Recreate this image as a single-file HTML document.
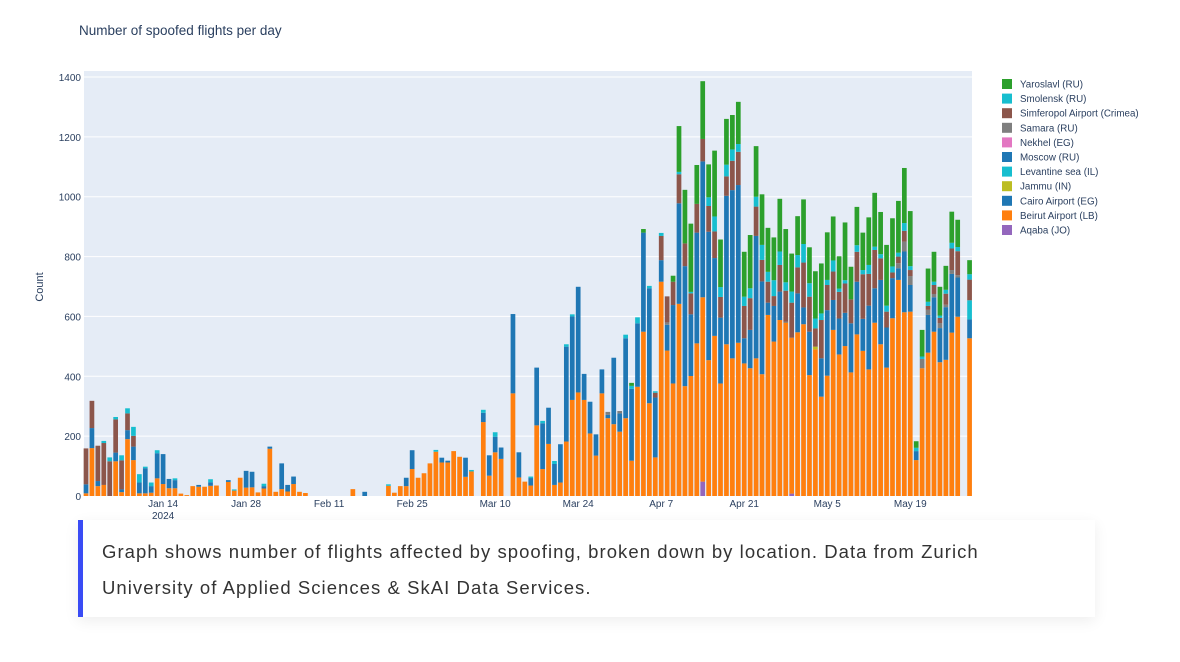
<!DOCTYPE html>
<html><head><meta charset="utf-8">
<style>
html,body{margin:0;padding:0;background:#fff;}
body{width:1180px;height:662px;position:relative;overflow:hidden;font-family:"Liberation Sans",sans-serif;}
#chart{position:absolute;left:0;top:0;}
.caption{position:absolute;left:78px;top:520px;width:1017px;height:97px;background:#fff;border-left:5px solid #3a4cf5;box-shadow:0 4px 14px rgba(0,0,0,0.07);box-sizing:border-box;padding:14px 0 0 19px;font-size:18.5px;letter-spacing:1.05px;line-height:36px;color:#333;}
</style></head><body>
<svg id="chart" width="1180" height="520" xmlns="http://www.w3.org/2000/svg">
<text x="79" y="35" font-size="13.5" fill="#2a3f5f" font-family="Liberation Sans, sans-serif">Number of spoofed flights per day</text>
<rect x="84" y="71" width="888" height="425" fill="#e5ecf6"/>
<g id="grid"></g>
<g id="bars"></g>
<g id="axes"></g>
<text transform="translate(43,287) rotate(-90)" text-anchor="middle" font-size="11" fill="#2a3f5f">Count</text>
<g id="legend"></g>
</svg>
<div class="caption">Graph shows number of flights affected by spoofing, broken down by location. Data from Zurich<br>University of Applied Sciences &amp; SkAI Data Services.</div>
<script>
const beirut=[9,160,33,37,0,116,13,190,120,9, 9,11,59,40,26,26,8,3,33,31, 31,34,35,0,47,18,61,28,29,12, 25,158,14,23,15,40,14,10,0,0, 0,0,0,0,0,23,0,0,0,0, 0,34,11,33,33,90,61,76,109,148, 112,112,150,131,64,82,0,247,68,146, 124,0,343,62,48,35,236,90,174,37, 45,182,321,346,321,209,135,343,260,240, 215,260,118,365,549,310,129,716,486,376, 642,367,401,510,616,454,535,376,507,460, 512,443,427,460,407,605,516,588,580,521, 547,574,404,490,332,402,555,473,501,413, 540,485,423,579,507,429,594,722,614,616, 120,427,479,549,447,455,546,599,0,527];
const cairo=[30,67,17,0,0,29,9,30,45,36, 84,22,84,100,31,27,0,0,0,6, 0,12,0,0,6,0,0,56,52,0, 8,7,0,86,22,25,0,0,0,0, 0,0,0,0,0,0,0,14,0,0, 0,0,0,0,28,63,0,0,0,0, 16,6,0,0,64,0,0,31,68,52, 38,0,265,84,0,25,193,153,121,70, 128,317,279,353,87,106,71,80,11,222, 61,267,240,212,331,384,200,72,86,262, 336,401,206,370,454,429,260,220,496,562, 527,84,128,409,310,41,119,95,2,0, 130,56,145,0,128,219,100,120,111,164, 176,107,213,115,215,134,134,39,203,89, 30,0,126,115,114,176,196,131,0,63];
const smolensk=[0,0,0,7,13,8,17,17,30,28, 5,12,10,0,0,6,0,0,0,0, 0,10,0,0,0,4,0,0,0,0, 8,0,0,0,0,0,0,0,0,0, 0,0,0,0,0,0,0,0,0,0, 0,5,0,0,0,0,0,0,0,6, 0,0,0,0,0,5,0,10,0,15, 0,0,0,0,0,5,0,8,0,10, 0,8,7,0,0,0,0,0,0,0, 0,12,10,20,0,8,5,10,0,0, 8,0,5,0,0,29,50,33,39,38, 26,31,33,33,50,33,53,45,28,37, 41,62,45,33,22,17,37,11,11,0, 22,14,30,11,14,20,20,13,26,13, 11,8,14,11,8,13,19,14,0,18];
const simferopol=[120,91,118,140,116,111,97,56,36,0, 0,0,0,0,0,0,0,0,0,0, 0,0,0,0,0,0,0,0,0,0, 0,0,0,0,0,0,0,0,0,0, 0,0,0,0,0,0,0,0,0,0, 0,0,0,0,0,0,0,0,0,0, 0,0,0,0,0,0,0,0,0,0, 0,0,0,0,0,0,0,0,0,0, 0,0,0,0,0,0,0,0,0,0, 0,0,0,0,0,0,16,81,87,78, 97,76,70,96,75,86,89,69,65,98, 111,108,106,98,72,70,33,89,104,117, 87,150,117,61,128,84,95,89,98,80, 100,149,106,128,72,53,19,22,36,20, 0,0,13,30,17,37,72,80,0,69];
const yaroslavl=[0,0,0,0,0,0,0,0,0,0, 0,0,0,0,0,0,0,0,0,0, 0,0,0,0,0,0,0,0,0,0, 0,0,0,0,0,0,0,0,0,0, 0,0,0,0,0,0,0,0,0,0, 0,0,0,0,0,0,0,0,0,0, 0,0,0,0,0,0,0,0,0,0, 0,0,0,0,0,0,0,0,0,0, 0,0,0,0,0,0,0,0,0,0, 0,0,10,0,12,0,0,0,0,20, 153,179,228,130,193,110,220,159,153,115, 141,150,178,169,169,147,143,176,178,127, 130,149,120,158,167,159,147,108,193,109, 128,125,159,180,141,203,161,173,184,184, 22,89,111,100,96,80,104,91,0,47];
const samaraDays=[88,90,98,137,138,139,141,142,143,144,145,146,147];
const samaraVals=[10,8,8,17,33,30,31,17,11,17,8,13,8];
const levantineDays=[149];
const levantineVals=[64];
const aqabaDays=[104,119];
const aqabaVals=[48,8];
const jammuDays=[123];
const jammuVals=[9];
const yTicks=[0,200,400,600,800,1000,1200,1400];
const xTickDays=[13,27,41,55,69,83,97,111,125,139];
const xTickLabels=["Jan 14","Jan 28","Feb 11","Feb 25","Mar 10","Mar 24","Apr 7","Apr 21","May 5","May 19"];
const legendNames=["Yaroslavl (RU)","Smolensk (RU)","Simferopol Airport (Crimea)","Samara (RU)","Nekhel (EG)","Moscow (RU)","Levantine sea (IL)","Jammu (IN)","Cairo Airport (EG)","Beirut Airport (LB)","Aqaba (JO)"];
const legendColors=["#2ca02c","#17becf","#8c564b","#7f7f7f","#e377c2","#1f77b4","#17becf","#bcbd22","#1f77b4","#ff7f0e","#9467bd"];

const NS="http://www.w3.org/2000/svg";
const X0=86, DX=5.93, BW=4.7, Y0=496, KY=419/1400;
function xs(d){return X0+d*DX;}
function ys(v){return Y0-v*KY;}
function mk(tag,attrs,parent){const e=document.createElementNS(NS,tag);for(const k in attrs)e.setAttribute(k,attrs[k]);parent.appendChild(e);return e;}
function sparse(days,vals){const a=new Array(150).fill(0);days.forEach((d,i)=>{a[d]=vals[i];});return a;}
const aqaba=sparse(aqabaDays,aqabaVals), jammu=sparse(jammuDays,jammuVals), levantine=sparse(levantineDays,levantineVals), samara=sparse(samaraDays,samaraVals);
const stack=[["aqaba",aqaba,"#9467bd"],["beirut",beirut,"#ff7f0e"],["cairo",cairo,"#1f77b4"],["jammu",jammu,"#bcbd22"],["levantine",levantine,"#17becf"],["samara",samara,"#7f7f7f"],["simferopol",simferopol,"#8c564b"],["smolensk",smolensk,"#17becf"],["yaroslavl",yaroslavl,"#2ca02c"]];

const grid=document.getElementById('grid'), bars=document.getElementById('bars'), axes=document.getElementById('axes'), legend=document.getElementById('legend');
yTicks.forEach(t=>{
  if(t>0){const l=mk('line',{x1:84,x2:972,y1:ys(t),y2:ys(t),stroke:'#fff','stroke-width':1},grid);
  
  }
  const tx=mk('text',{x:81,y:ys(t)+4,'text-anchor':'end','font-size':10,fill:'#2a3f5f'},axes);
  tx.textContent=t;
  
  
});
xTickDays.forEach((d,i)=>{
  const tx=mk('text',{x:xs(d),y:507,'text-anchor':'middle','font-size':10,fill:'#2a3f5f'},axes);
  tx.textContent=xTickLabels[i];
  
  
});
const yr=mk('text',{x:xs(13),y:519,'text-anchor':'middle','font-size':10,fill:'#2a3f5f'},axes);
yr.textContent='2024';


for(let d=0;d<150;d++){
  let base=0;
  stack.forEach(s=>{
    const v=s[1][d]; if(!v) return;
    const r=mk('rect',{x:xs(d)-BW/2,y:ys(base+v),width:BW,height:v*KY,fill:s[2]},bars);
    
    
    base+=v;
  });
}
legendNames.forEach((n,i)=>{
  const y=84+i*14.6;
  const g=mk('g',{},legend);
  
  
  mk('rect',{x:1002,y:y-5,width:10,height:10,fill:legendColors[i]},g);
  const t=mk('text',{x:1020,y:y+3.5,'font-size':9.8,fill:'#2a3f5f'},g);
  t.textContent=n;
});
</script>
</body></html>
